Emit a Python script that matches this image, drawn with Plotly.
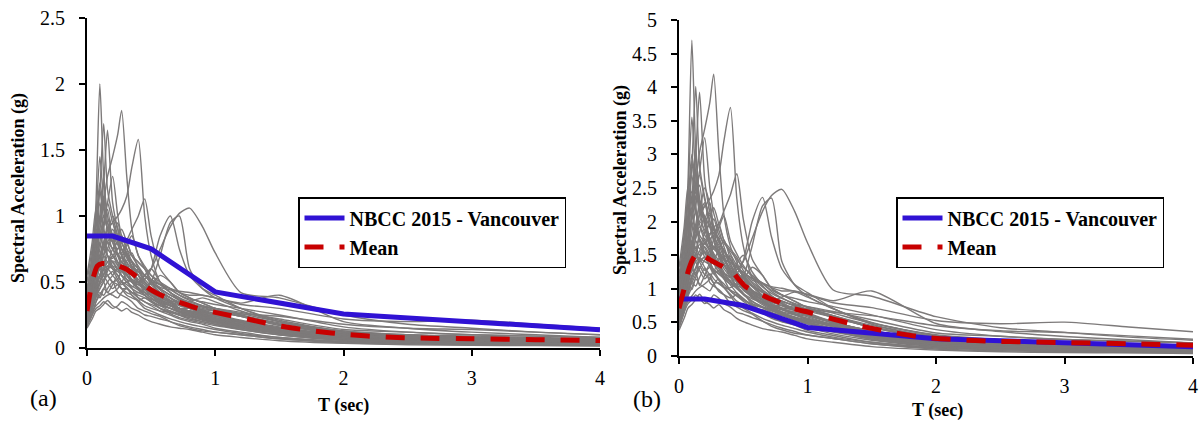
import plotly.graph_objects as go

# Periods (s) at which each record's spectral ordinate is tabulated
T = [0, 0.04, 0.07, 0.1, 0.13, 0.16, 0.2, 0.24, 0.27, 0.31, 0.35, 0.4, 0.45, 0.5,
     0.57, 0.65, 0.72, 0.8, 0.9, 1.0, 1.2, 1.5, 2.0, 2.5, 3.0, 3.5, 4.0]

# Response spectra of the individual ground-motion records (g), set (a)
records_a = [
    [0.32, 0.6, 1.1, 2.0, 1.3, 1.0, 0.85, 0.7, 0.65, 0.6, 0.5, 0.45, 0.4, 0.36, 0.32, 0.28, 0.25, 0.22, 0.2, 0.18, 0.14, 0.1, 0.06, 0.045, 0.035, 0.03, 0.025],
    [0.25, 0.4, 0.6, 0.9, 1.1, 1.3, 1.45, 1.62, 1.8, 1.3, 0.9, 0.7, 0.6, 0.5, 0.42, 0.38, 0.33, 0.3, 0.27, 0.25, 0.2, 0.15, 0.09, 0.07, 0.06, 0.05, 0.04],
    [0.22, 0.35, 0.5, 0.7, 0.8, 0.9, 0.95, 1.0, 1.05, 1.15, 1.37, 1.58, 1.0, 0.7, 0.5, 0.42, 0.38, 0.33, 0.29, 0.26, 0.21, 0.16, 0.1, 0.08, 0.07, 0.06, 0.05],
    [0.35, 0.5, 0.9, 1.2, 1.7, 1.2, 1.0, 0.85, 0.75, 0.7, 0.62, 0.55, 0.5, 0.45, 0.4, 0.35, 0.3, 0.27, 0.24, 0.21, 0.17, 0.12, 0.07, 0.05, 0.04, 0.035, 0.03],
    [0.3, 0.45, 0.7, 1.0, 1.25, 1.65, 1.1, 0.9, 0.8, 0.72, 0.66, 0.6, 0.55, 0.5, 0.44, 0.38, 0.33, 0.3, 0.26, 0.23, 0.19, 0.13, 0.08, 0.06, 0.05, 0.045, 0.04],
    [0.4, 0.7, 1.0, 1.45, 1.1, 0.9, 0.75, 0.8, 0.7, 0.6, 0.55, 0.5, 0.46, 0.42, 0.38, 0.34, 0.3, 0.28, 0.25, 0.22, 0.18, 0.13, 0.08, 0.06, 0.05, 0.04, 0.035],
    [0.3, 0.45, 0.6, 0.8, 0.95, 1.1, 1.3, 1.0, 0.85, 0.75, 0.65, 0.55, 0.48, 0.42, 0.36, 0.32, 0.3, 0.28, 0.25, 0.22, 0.18, 0.13, 0.08, 0.06, 0.05, 0.045, 0.04],
    [0.25, 0.35, 0.45, 0.55, 0.6, 0.65, 0.7, 0.75, 0.8, 0.82, 0.9, 1.0, 1.13, 0.85, 0.6, 0.5, 0.42, 0.38, 0.34, 0.3, 0.25, 0.19, 0.12, 0.09, 0.08, 0.07, 0.06],
    [0.2, 0.3, 0.4, 0.5, 0.55, 0.6, 0.62, 0.6, 0.58, 0.55, 0.52, 0.5, 0.52, 0.6, 0.85, 1.0, 0.75, 0.55, 0.45, 0.4, 0.3, 0.2, 0.12, 0.1, 0.08, 0.07, 0.06],
    [0.22, 0.32, 0.42, 0.5, 0.56, 0.62, 0.66, 0.63, 0.6, 0.56, 0.5, 0.48, 0.45, 0.5, 0.7, 0.95, 1.0, 0.6, 0.45, 0.38, 0.3, 0.21, 0.13, 0.1, 0.09, 0.08, 0.07],
    [0.25, 0.35, 0.45, 0.55, 0.6, 0.62, 0.6, 0.58, 0.55, 0.52, 0.5, 0.5, 0.55, 0.6, 0.75, 0.92, 1.02, 1.06, 0.92, 0.72, 0.42, 0.38, 0.25, 0.18, 0.15, 0.12, 0.1],
    [0.2, 0.3, 0.4, 0.45, 0.5, 0.55, 0.5, 0.48, 0.45, 0.45, 0.42, 0.42, 0.45, 0.5, 0.48, 0.45, 0.42, 0.4, 0.4, 0.38, 0.34, 0.4, 0.2, 0.15, 0.12, 0.1, 0.08],
    [0.3, 0.45, 0.6, 0.7, 0.75, 0.8, 0.75, 0.7, 0.68, 0.65, 0.6, 0.58, 0.55, 0.52, 0.48, 0.45, 0.43, 0.42, 0.4, 0.38, 0.33, 0.3, 0.22, 0.2, 0.21, 0.18, 0.15],
    [0.18, 0.3, 0.45, 0.55, 0.6, 0.65, 0.6, 0.55, 0.5, 0.45, 0.42, 0.38, 0.35, 0.32, 0.28, 0.25, 0.22, 0.2, 0.18, 0.15, 0.12, 0.08, 0.05, 0.04, 0.03, 0.025, 0.02],
    [0.42, 0.7, 0.9, 0.85, 1.0, 0.9, 0.8, 0.85, 0.75, 0.7, 0.6, 0.5, 0.45, 0.4, 0.37, 0.33, 0.3, 0.28, 0.26, 0.24, 0.2, 0.15, 0.1, 0.08, 0.07, 0.06, 0.05],
    [0.25, 0.45, 0.55, 0.7, 0.65, 0.75, 0.85, 0.7, 0.65, 0.72, 0.6, 0.5, 0.42, 0.38, 0.33, 0.3, 0.28, 0.25, 0.22, 0.2, 0.16, 0.12, 0.08, 0.06, 0.05, 0.04, 0.035],
    [0.16, 0.25, 0.35, 0.42, 0.4, 0.45, 0.5, 0.42, 0.4, 0.38, 0.35, 0.3, 0.28, 0.26, 0.24, 0.2, 0.18, 0.16, 0.14, 0.12, 0.1, 0.07, 0.045, 0.035, 0.03, 0.025, 0.02],
    [0.3, 0.5, 0.65, 0.6, 0.75, 0.7, 0.65, 0.6, 0.7, 0.65, 0.55, 0.6, 0.5, 0.45, 0.42, 0.38, 0.35, 0.33, 0.3, 0.28, 0.24, 0.17, 0.11, 0.09, 0.08, 0.07, 0.06],
    [0.2, 0.35, 0.5, 0.6, 0.55, 0.5, 0.45, 0.48, 0.45, 0.42, 0.4, 0.35, 0.3, 0.28, 0.25, 0.22, 0.2, 0.18, 0.16, 0.14, 0.11, 0.08, 0.05, 0.04, 0.035, 0.03, 0.025],
    [0.35, 0.6, 0.8, 0.95, 0.85, 0.8, 0.9, 0.8, 0.7, 0.62, 0.58, 0.5, 0.44, 0.4, 0.36, 0.34, 0.32, 0.3, 0.28, 0.25, 0.2, 0.15, 0.1, 0.08, 0.07, 0.06, 0.05],
    [0.22, 0.35, 0.42, 0.38, 0.45, 0.5, 0.55, 0.6, 0.55, 0.5, 0.52, 0.45, 0.4, 0.36, 0.3, 0.28, 0.26, 0.24, 0.22, 0.2, 0.17, 0.12, 0.07, 0.055, 0.045, 0.04, 0.035],
    [0.28, 0.5, 0.7, 1.1, 0.9, 0.7, 0.6, 0.55, 0.5, 0.46, 0.42, 0.4, 0.38, 0.35, 0.3, 0.27, 0.25, 0.23, 0.2, 0.18, 0.15, 0.11, 0.07, 0.055, 0.045, 0.04, 0.035],
    [0.18, 0.28, 0.32, 0.35, 0.38, 0.4, 0.42, 0.45, 0.5, 0.48, 0.45, 0.42, 0.4, 0.42, 0.38, 0.35, 0.3, 0.28, 0.27, 0.25, 0.2, 0.14, 0.09, 0.07, 0.06, 0.05, 0.045],
    [0.4, 0.55, 0.75, 1.2, 1.0, 1.05, 0.8, 0.75, 0.8, 0.7, 0.65, 0.55, 0.5, 0.45, 0.4, 0.35, 0.3, 0.27, 0.24, 0.22, 0.18, 0.13, 0.08, 0.06, 0.05, 0.045, 0.04],
    [0.25, 0.4, 0.5, 0.55, 0.7, 0.8, 0.75, 0.65, 0.6, 0.55, 0.6, 0.55, 0.45, 0.4, 0.35, 0.32, 0.3, 0.28, 0.26, 0.24, 0.2, 0.14, 0.09, 0.07, 0.06, 0.05, 0.045],
    [0.17, 0.25, 0.3, 0.32, 0.35, 0.33, 0.3, 0.32, 0.35, 0.33, 0.3, 0.28, 0.25, 0.24, 0.22, 0.2, 0.17, 0.15, 0.13, 0.12, 0.1, 0.07, 0.04, 0.03, 0.025, 0.02, 0.018],
    [0.3, 0.45, 0.55, 0.65, 0.8, 0.7, 0.68, 0.72, 0.65, 0.62, 0.58, 0.52, 0.48, 0.44, 0.4, 0.36, 0.34, 0.33, 0.31, 0.3, 0.27, 0.22, 0.14, 0.12, 0.1, 0.09, 0.08],
    [0.2, 0.32, 0.45, 0.5, 0.6, 0.55, 0.58, 0.52, 0.48, 0.5, 0.45, 0.38, 0.35, 0.33, 0.3, 0.26, 0.23, 0.21, 0.19, 0.17, 0.14, 0.1, 0.06, 0.05, 0.04, 0.035, 0.03],
    [0.35, 0.55, 0.7, 0.9, 1.3, 0.95, 0.85, 0.7, 0.62, 0.55, 0.5, 0.46, 0.42, 0.38, 0.34, 0.3, 0.27, 0.25, 0.23, 0.21, 0.17, 0.12, 0.08, 0.06, 0.05, 0.045, 0.04],
    [0.27, 0.42, 0.55, 0.6, 0.65, 0.6, 0.7, 0.62, 0.58, 0.55, 0.5, 0.44, 0.4, 0.37, 0.34, 0.32, 0.3, 0.3, 0.29, 0.28, 0.26, 0.24, 0.18, 0.15, 0.14, 0.12, 0.1],
    [0.45, 0.6, 0.8, 0.9, 0.75, 0.95, 0.8, 0.7, 0.75, 0.62, 0.55, 0.5, 0.55, 0.48, 0.42, 0.36, 0.3, 0.27, 0.25, 0.23, 0.19, 0.13, 0.08, 0.06, 0.05, 0.04, 0.035],
    [0.2, 0.3, 0.38, 0.45, 0.5, 0.42, 0.48, 0.55, 0.5, 0.58, 0.52, 0.48, 0.55, 0.6, 0.5, 0.42, 0.36, 0.32, 0.28, 0.25, 0.2, 0.14, 0.08, 0.06, 0.05, 0.04, 0.035],
    [0.55, 0.8, 1.05, 0.95, 1.15, 0.9, 0.95, 0.8, 0.85, 0.75, 0.7, 0.65, 0.6, 0.55, 0.5, 0.45, 0.4, 0.36, 0.32, 0.29, 0.24, 0.18, 0.11, 0.09, 0.08, 0.07, 0.06],
    [0.15, 0.22, 0.28, 0.3, 0.33, 0.36, 0.32, 0.3, 0.28, 0.3, 0.27, 0.25, 0.22, 0.2, 0.18, 0.16, 0.15, 0.14, 0.12, 0.1, 0.08, 0.055, 0.035, 0.025, 0.02, 0.018, 0.015],
    [0.3, 0.42, 0.5, 0.62, 0.7, 0.65, 0.75, 0.8, 0.7, 0.78, 0.85, 0.7, 0.62, 0.55, 0.48, 0.42, 0.38, 0.35, 0.32, 0.3, 0.26, 0.2, 0.13, 0.1, 0.08, 0.07, 0.06],
    [0.38, 0.55, 0.65, 0.8, 0.7, 0.85, 1.0, 0.9, 0.75, 0.68, 0.62, 0.58, 0.5, 0.46, 0.42, 0.38, 0.34, 0.3, 0.27, 0.25, 0.2, 0.15, 0.09, 0.07, 0.06, 0.05, 0.045],
    [0.22, 0.38, 0.48, 0.55, 0.5, 0.6, 0.55, 0.5, 0.45, 0.4, 0.38, 0.36, 0.38, 0.35, 0.32, 0.3, 0.28, 0.26, 0.24, 0.22, 0.2, 0.15, 0.1, 0.08, 0.07, 0.06, 0.05],
    [0.28, 0.4, 0.6, 0.75, 0.9, 1.1, 0.95, 0.85, 0.9, 0.8, 0.7, 0.62, 0.55, 0.5, 0.45, 0.4, 0.36, 0.32, 0.28, 0.25, 0.2, 0.14, 0.09, 0.07, 0.06, 0.05, 0.045],
    [0.18, 0.26, 0.35, 0.4, 0.45, 0.42, 0.4, 0.38, 0.42, 0.45, 0.4, 0.36, 0.32, 0.3, 0.28, 0.27, 0.25, 0.24, 0.22, 0.2, 0.16, 0.11, 0.06, 0.045, 0.035, 0.03, 0.025],
    [0.33, 0.5, 0.7, 0.65, 0.8, 0.75, 0.7, 0.65, 0.6, 0.66, 0.72, 0.6, 0.52, 0.48, 0.55, 0.5, 0.42, 0.38, 0.34, 0.3, 0.25, 0.18, 0.1, 0.08, 0.07, 0.06, 0.05],
    [0.26, 0.4, 0.55, 0.5, 0.6, 0.7, 0.62, 0.58, 0.65, 0.6, 0.55, 0.5, 0.45, 0.42, 0.38, 0.35, 0.33, 0.35, 0.38, 0.35, 0.28, 0.2, 0.12, 0.09, 0.08, 0.07, 0.06],
    [0.45, 0.65, 0.85, 1.0, 0.9, 0.8, 0.7, 0.65, 0.6, 0.55, 0.5, 0.48, 0.45, 0.4, 0.36, 0.32, 0.29, 0.26, 0.23, 0.2, 0.16, 0.11, 0.06, 0.045, 0.035, 0.03, 0.025],
    [0.2, 0.32, 0.4, 0.48, 0.52, 0.58, 0.65, 0.6, 0.55, 0.5, 0.47, 0.44, 0.42, 0.4, 0.36, 0.32, 0.28, 0.25, 0.22, 0.19, 0.15, 0.1, 0.06, 0.04, 0.03, 0.025, 0.02],
    [0.5, 0.75, 0.95, 1.25, 1.05, 0.9, 0.85, 0.95, 0.8, 0.72, 0.65, 0.6, 0.55, 0.5, 0.45, 0.4, 0.37, 0.34, 0.31, 0.28, 0.24, 0.18, 0.12, 0.09, 0.08, 0.07, 0.06],
    [0.24, 0.36, 0.45, 0.55, 0.62, 0.55, 0.5, 0.52, 0.58, 0.52, 0.46, 0.5, 0.46, 0.4, 0.34, 0.3, 0.27, 0.24, 0.21, 0.19, 0.16, 0.12, 0.07, 0.05, 0.04, 0.035, 0.03],
    [0.36, 0.5, 0.62, 0.7, 0.8, 0.9, 0.85, 0.78, 0.72, 0.8, 0.7, 0.65, 0.6, 0.52, 0.46, 0.44, 0.4, 0.37, 0.35, 0.33, 0.3, 0.25, 0.16, 0.12, 0.1, 0.09, 0.08],
]

# Amplitude scale factor applied to each record for set (b)
scale_b = [2.35, 2.33, 2.34, 2.36, 2.38, 2.45, 2.5, 2.4, 2.36, 2.35, 2.34, 2.42, 2.4,
           2.55, 2.5, 2.45, 2.6, 2.48, 2.55, 2.5, 2.6, 2.45, 2.55, 2.42, 2.5, 2.6,
           2.45, 2.55, 2.4, 2.5, 2.45, 2.5, 2.4, 2.55, 2.45, 2.5, 2.4, 2.45, 2.55,
           2.4, 2.5, 2.45, 2.5, 2.4, 2.55, 2.45]

# NBCC 2015 design spectrum, Vancouver
T_nbcc = [0, 0.2, 0.5, 1.0, 2.0, 4.0]
Sa_nbcc = [0.848, 0.848, 0.751, 0.425, 0.257, 0.139]

# Mean spectra of each record set
T_mean_a = [0, 0.04, 0.08, 0.12, 0.2, 0.25, 0.3, 0.4, 0.47, 0.6, 0.74, 0.88, 1.0,
            1.25, 1.5, 1.76, 2.05, 2.33, 2.6, 3.0, 3.5, 4.0]
mean_a = [0.28, 0.5, 0.62, 0.64, 0.635, 0.62, 0.6, 0.53, 0.46, 0.39, 0.34, 0.295, 0.27,
          0.22, 0.167, 0.13, 0.1, 0.083, 0.075, 0.07, 0.063, 0.057]

T_mean_b = [0, 0.04, 0.07, 0.11, 0.15, 0.18, 0.21, 0.27, 0.34, 0.37, 0.4, 0.46, 0.52,
            0.6, 0.7, 0.78, 0.85, 1.03, 1.2, 1.32, 1.4, 1.61, 1.89, 2.18, 2.43, 2.72,
            3.0, 3.55, 4.0]
mean_b = [0.71, 1.0, 1.25, 1.45, 1.55, 1.5, 1.47, 1.4, 1.33, 1.3, 1.3, 1.15, 1.03,
          0.95, 0.86, 0.8, 0.73, 0.64, 0.55, 0.49, 0.45, 0.37, 0.28, 0.24, 0.22, 0.21,
          0.2, 0.18, 0.16]

SERIF = "Liberation Serif, Times New Roman, serif"
GRAY = "#7d7a7a"
BLUE = "#3012d4"
RED = "#c80000"

fig = go.Figure()

panels = [
    ("x", "y", "legend", [list(rec) for rec in records_a], T_mean_a, mean_a),
    ("x2", "y2", "legend2",
     [[v * f for v in rec] for rec, f in zip(records_a, scale_b)], T_mean_b, mean_b),
]

for xa, ya, leg, recs, tm, mv in panels:
    for rec in recs:
        fig.add_trace(go.Scatter(
            x=T, y=rec, xaxis=xa, yaxis=ya, mode="lines",
            line=dict(color=GRAY, width=1.4, shape="spline", smoothing=0.7),
            showlegend=False, hoverinfo="skip"))
    fig.add_trace(go.Scatter(
        x=T_nbcc, y=Sa_nbcc, xaxis=xa, yaxis=ya, mode="lines",
        name="NBCC 2015 - Vancouver", legend=leg,
        line=dict(color=BLUE, width=5)))
    fig.add_trace(go.Scatter(
        x=tm, y=mv, xaxis=xa, yaxis=ya, mode="lines",
        name="Mean", legend=leg,
        line=dict(color=RED, width=5, dash="19px,16px", shape="spline", smoothing=0.6)))

tickfont = dict(family=SERIF, size=20, color="black")
xcommon = dict(range=[0, 4], dtick=1, tick0=0, showgrid=False, zeroline=False,
               showline=True, linecolor="black", linewidth=2, ticks="outside",
               ticklen=6, tickwidth=1.5, tickcolor="black", tickfont=tickfont,
               ticklabelstandoff=5, automargin=False)
ycommon = dict(dtick=0.5, tick0=0, showgrid=False, zeroline=False,
               showline=True, linecolor="black", linewidth=2, ticks="outside",
               ticklen=6, tickwidth=1.5, tickcolor="black", tickfont=tickfont,
               ticklabelstandoff=10, automargin=False)

H = 422
legend_style = dict(
    bgcolor="white", bordercolor="black", borderwidth=1.5,
    font=dict(family=SERIF, size=20, color="black", weight="bold"),
    xanchor="left", yanchor="top", tracegroupgap=0, itemwidth=40)

fig.update_layout(
    width=1203, height=H,
    margin=dict(l=0, r=0, t=0, b=0, pad=0, autoexpand=False),
    paper_bgcolor="white", plot_bgcolor="white",
    xaxis=dict(domain=[87 / 1203, 600 / 1203], anchor="y", **xcommon),
    yaxis=dict(domain=[(H - 348) / H, (H - 18) / H], anchor="x", range=[0, 2.5], **ycommon),
    xaxis2=dict(domain=[679 / 1203, 1193 / 1203], anchor="y2", **xcommon),
    yaxis2=dict(domain=[(H - 356) / H, (H - 20) / H], anchor="x2", range=[0, 5], **ycommon),
    legend=dict(x=298 / 1203, y=(H - 197) / H, **legend_style),
    legend2=dict(x=896 / 1203, y=(H - 197) / H, **legend_style),
)

title_font = dict(family=SERIF, size=18, color="black", weight="bold")
label_font = dict(family=SERIF, size=24, color="black")
annotations = [
    dict(text="Spectral Acceleration (g)", x=18 / 1203, y=(H - 188) / H, textangle=-90, font=title_font),
    dict(text="Spectral Acceleration (g)", x=621 / 1203, y=(H - 180) / H, textangle=-90, font=title_font),
    dict(text="T (sec)", x=343 / 1203, y=(H - 405) / H, font=title_font),
    dict(text="T (sec)", x=937 / 1203, y=(H - 410) / H, font=title_font),
    dict(text="(a)", x=43 / 1203, y=(H - 398) / H, font=label_font),
    dict(text="(b)", x=647 / 1203, y=(H - 399) / H, font=label_font),
]
for a in annotations:
    fig.add_annotation(xref="paper", yref="paper", showarrow=False,
                       xanchor="center", yanchor="middle", **a)

fig.write_html("out.html", post_script="document.body.style.margin='0';")
